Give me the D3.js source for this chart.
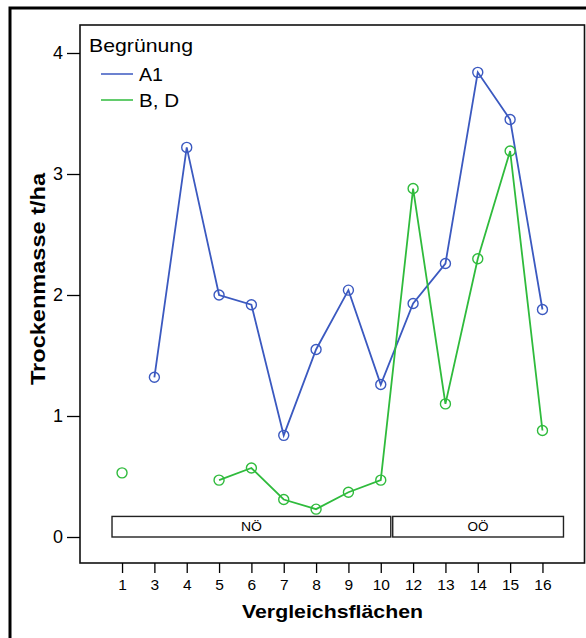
<!DOCTYPE html>
<html>
<head>
<meta charset="utf-8">
<script src="https://cdn.jsdelivr.net/npm/d3@7/dist/d3.min.js"></script>
<style>
  html, body { margin: 0; padding: 0; background: #fff; }
  svg { display: block; font-family: "Liberation Sans", Arial, sans-serif; }
</style>
</head>
<body>
<svg id="chart" width="586" height="638"></svg>
<script>
// Vergleichsflächen (x categories)
const categories = ["1", "3", "4", "5", "6", "7", "8", "9", "10", "12", "13", "14", "15", "16"];
// Trockenmasse t/ha per Begrünung (null = no measurement)
const valuesA1 = [null, 1.32, 3.22, 2.00, 1.92, 0.84, 1.55, 2.04, 1.26, 1.93, 2.26, 3.84, 3.45, 1.88];
const valuesBD = [0.53, null, null, 0.47, 0.57, 0.31, 0.23, 0.37, 0.47, 2.88, 1.10, 2.30, 3.19, 0.88];
const seriesNames = ["A1", "B, D"];
const seriesColors = ["#3b59c0", "#2fbb3c"];
const yTicks = [0, 1, 2, 3, 4];
// Regions (Bundesland) as spans over category index positions
const regionNames = ["NÖ", "OÖ"];
const regionStart = [-0.31, 8.37];
const regionEnd = [8.31, 13.65];
const regionHeight = 0.17;

const svg = d3.select("#chart");

// outer frame
svg.append("rect")
  .attr("x", 10).attr("y", 8).attr("width", 640).attr("height", 700)
  .attr("fill", "none").attr("stroke", "#000").attr("stroke-width", 3);

const plot = { left: 80, top: 25, right: 584.5, bottom: 563 };

const x = d3.scalePoint().domain(categories).range([plot.left, plot.right]).padding(1.3);
const step = x.step();
const xi = i => x(categories[0]) + i * step;
const y = d3.scaleLinear().domain([0, 4]).range([537, 53]);

// plot frame
svg.append("rect")
  .attr("x", plot.left).attr("y", plot.top)
  .attr("width", plot.right - plot.left).attr("height", plot.bottom - plot.top)
  .attr("fill", "none").attr("stroke", "#111").attr("stroke-width", 1.6);

// y axis
const yAxis = d3.axisLeft(y).tickValues(yTicks).tickSize(13).tickPadding(4).tickFormat(d3.format("d"));
const gy = svg.append("g").attr("transform", `translate(${plot.left},0)`).call(yAxis);
gy.select(".domain").remove();
gy.selectAll(".tick line").attr("stroke", "#000").attr("stroke-width", 1.3);
gy.selectAll(".tick text").attr("font-size", 18).attr("fill", "#000").attr("font-family", "Liberation Sans, Arial, sans-serif");

// x axis
const xAxis = d3.axisBottom(x).tickSize(10).tickPadding(6);
const gx = svg.append("g").attr("transform", `translate(0,${plot.bottom})`).call(xAxis);
gx.select(".domain").remove();
gx.selectAll(".tick line").attr("stroke", "#000").attr("stroke-width", 1.3);
gx.selectAll(".tick text").attr("font-size", 15.5).attr("fill", "#000").attr("font-family", "Liberation Sans, Arial, sans-serif");

// axis titles
svg.append("text")
  .attr("x", 332.5).attr("y", 618)
  .attr("text-anchor", "middle").attr("font-size", 19).attr("font-weight", "bold")
  .attr("textLength", 181).attr("lengthAdjust", "spacingAndGlyphs")
  .text("Vergleichsflächen");
svg.append("text")
  .attr("transform", "translate(45,279) rotate(-90)")
  .attr("text-anchor", "middle").attr("font-size", 21).attr("font-weight", "bold")
  .attr("textLength", 212).attr("lengthAdjust", "spacingAndGlyphs")
  .text("Trockenmasse t/ha");

// region boxes
regionNames.forEach((name, i) => {
  const x0 = xi(regionStart[i]), x1 = xi(regionEnd[i]);
  svg.append("rect")
    .attr("x", x0).attr("y", y(regionHeight))
    .attr("width", x1 - x0).attr("height", y(0) - y(regionHeight))
    .attr("fill", "#fff").attr("stroke", "#222").attr("stroke-width", 1.4);
  svg.append("text")
    .attr("x", (x0 + x1) / 2).attr("y", (y(0) + y(regionHeight)) / 2 + 4.5)
    .attr("text-anchor", "middle").attr("font-size", 12.5)
    .attr("textLength", 21).attr("lengthAdjust", "spacingAndGlyphs")
    .text(name);
});

// series
const allSeries = [valuesA1, valuesBD];
allSeries.forEach((vals, s) => {
  const pts = vals.map((v, i) => ({ c: categories[i], v }));
  const line = d3.line()
    .defined(d => d.v !== null)
    .x(d => x(d.c)).y(d => y(d.v));
  svg.append("path")
    .datum(pts)
    .attr("d", line)
    .attr("fill", "none").attr("stroke", seriesColors[s]).attr("stroke-width", 1.8);
  svg.selectAll(null)
    .data(pts.filter(d => d.v !== null))
    .enter().append("circle")
    .attr("cx", d => x(d.c)).attr("cy", d => y(d.v)).attr("r", 5)
    .attr("fill", "none").attr("stroke", seriesColors[s]).attr("stroke-width", 1.4);
});

// legend
const legendWidths = [24, 40];
const lg = svg.append("g");
lg.append("text").attr("x", 89).attr("y", 52).attr("font-size", 18.5)
  .attr("textLength", 104).attr("lengthAdjust", "spacingAndGlyphs").text("Begrünung");
seriesNames.forEach((name, i) => {
  const ly = 74 + i * 26;
  lg.append("line").attr("x1", 101).attr("x2", 133).attr("y1", ly).attr("y2", ly)
    .attr("stroke", seriesColors[i]).attr("stroke-width", 1.5);
  lg.append("text").attr("x", 139).attr("y", ly + 6.5).attr("font-size", 18)
    .attr("textLength", legendWidths[i]).attr("lengthAdjust", "spacingAndGlyphs").text(name);
});
</script>
</body>
</html>
